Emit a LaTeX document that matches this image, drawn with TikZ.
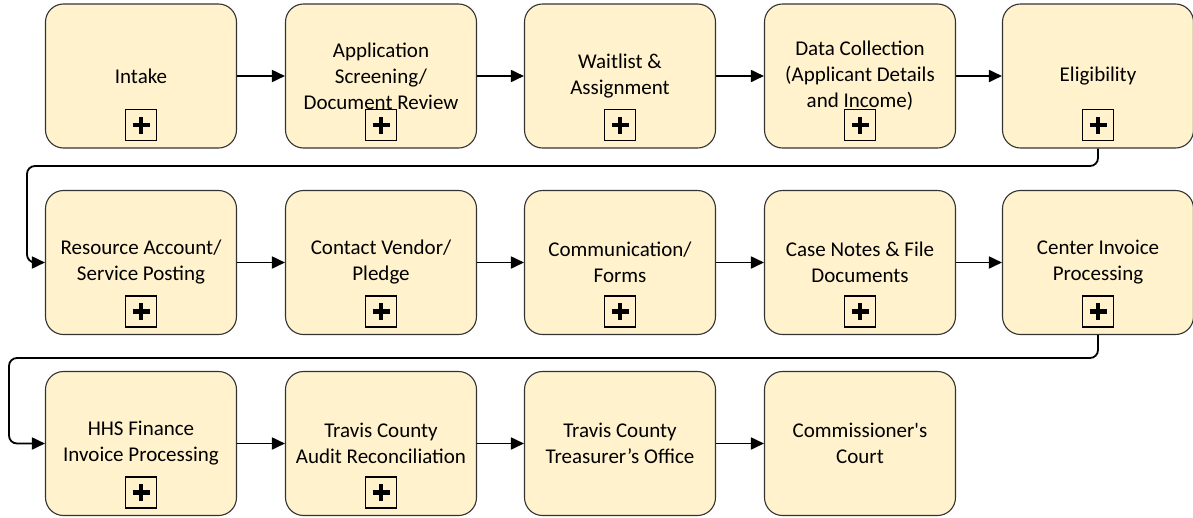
\documentclass[tikz,border=0pt]{standalone}
\usepackage{fontspec}
\setmainfont{Carlito}
\usetikzlibrary{arrows.meta}
\definecolor{procfill}{HTML}{FFF2CC}
\tikzset{
  proc/.style={draw=black!80, line width=1.1pt, fill=procfill, rounded corners=18pt,
    minimum width=191pt, minimum height=144pt, align=center, inner sep=2pt,
    font=\fontsize{21}{26}\selectfont},
  subproc/.style={draw=black, line width=1.8pt, minimum size=31pt, inner sep=0pt,
    path picture={\draw[line width=4.4pt] ([xshift=-8.5pt]path picture bounding box.center) -- ([xshift=8.5pt]path picture bounding box.center);
                  \draw[line width=4.4pt] ([yshift=-8.5pt]path picture bounding box.center) -- ([yshift=8.5pt]path picture bounding box.center);}},
  flow/.style={draw=black, line width=1.8pt, -{Triangle[length=13pt,width=12pt]}},
  wrap/.style={flow, rounded corners=8pt}
}
\begin{document}
\begin{tikzpicture}[x=1pt,y=-1pt]
\useasboundingbox (0,0) rectangle (1193,517);
% row 1
\node[proc] (a1) at (141,76) {Intake};
\node[proc] (a2) at (381,76) {Application\\Screening/\\Document Review};
\node[proc] (a3) at (620,76) {Waitlist \&\\Assignment};
\node[proc] (a4) at (860,76) {Data Collection\\(Applicant Details\\and Income)};
\node[proc] (a5) at (1098,76) {Eligibility};
% row 2
\node[proc] (b1) at (141,262.5) {Resource Account/\\Service Posting};
\node[proc] (b2) at (381,262.5) {Contact Vendor/\\Pledge};
\node[proc] (b3) at (620,262.5) {Communication/\\Forms};
\node[proc] (b4) at (860,262.5) {Case Notes \& File\\Documents};
\node[proc] (b5) at (1098,262.5) {Center Invoice\\Processing};
% row 3
\node[proc] (c1) at (141,443.5) {HHS Finance\\Invoice Processing};
\node[proc] (c2) at (381,443.5) {Travis County\\Audit Reconciliation};
\node[proc] (c3) at (620,443.5) {Travis County\\Treasurer’s Office};
\node[proc] (c4) at (860,443.5) {Commissioner\textquotesingle s\\Court};
% sub-process markers
\foreach \n in {a1,a2,a3,a4,a5,b1,b2,b3,b4,b5,c1,c2}
  \node[subproc] (m\n) at ([yshift=23.5pt]\n.south) {};
% connectors
\draw[flow] (a1) -- (a2);
\draw[flow] (a2) -- (a3);
\draw[flow] (a3) -- (a4);
\draw[flow] (a4) -- (a5);
\coordinate (w1) at (27,166);
\draw[wrap] (a5.south) |- (w1) |- (b1.west);
\draw[flow] (b1) -- (b2);
\draw[flow] (b2) -- (b3);
\draw[flow] (b3) -- (b4);
\draw[flow] (b4) -- (b5);
\coordinate (w2) at (9,358);
\draw[wrap] (b5.south) |- (w2) |- (c1.west);
\draw[flow] (c1) -- (c2);
\draw[flow] (c2) -- (c3);
\draw[flow] (c3) -- (c4);
\end{tikzpicture}
\end{document}
